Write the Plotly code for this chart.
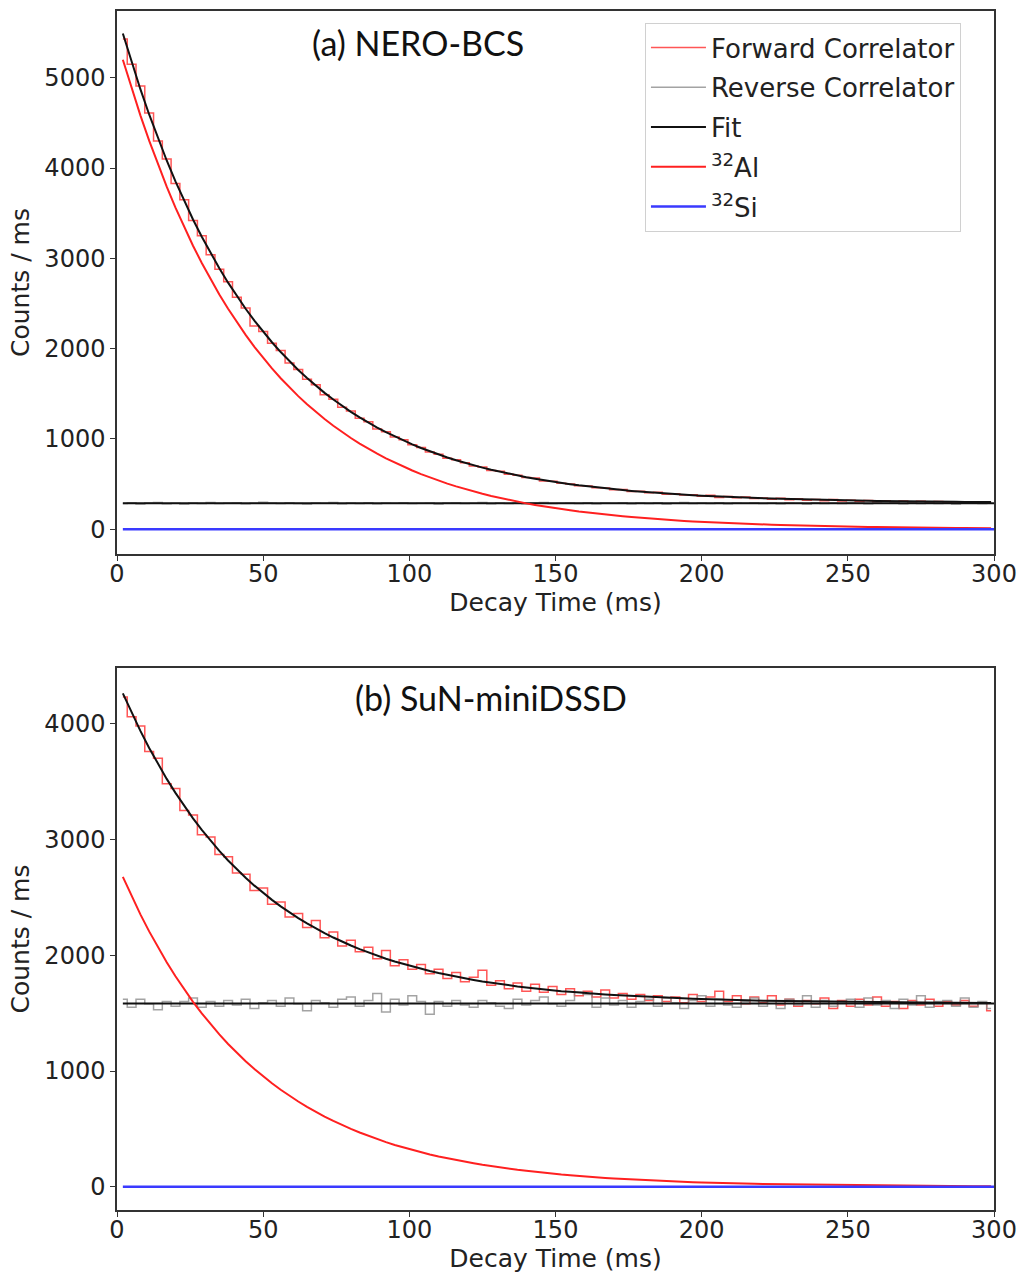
import plotly.graph_objects as go
from plotly.subplots import make_subplots

# ── Bins (ms) — 3 ms wide, starting at 2 ms ────────────────────────────────
decay_time = list(range(2, 300, 3))
line_ends = [2, 300]

# ── (a) NERO-BCS ───────────────────────────────────────────────────────────
forward_a = [
    5430, 5150, 4910, 4610, 4300, 4100, 3830, 3650, 3420, 3250,
    3040, 2880, 2740, 2570, 2450, 2250, 2190, 2060, 1980, 1840,
    1770, 1660, 1600, 1490, 1440, 1350, 1310, 1230, 1190, 1110,
    1080, 1020, 990, 935, 905, 855, 830, 785, 770, 735,
    700, 690, 650, 642, 608, 598, 572, 566, 535, 532,
    508, 502, 482, 478, 458, 456, 436, 440, 418, 420,
    404, 408, 388, 394, 378, 382, 366, 376, 352, 362,
    348, 356, 340, 346, 332, 344, 326, 338, 322, 330,
    316, 328, 312, 322, 308, 318, 304, 316, 300, 312,
    300, 310, 296, 306, 296, 304, 292, 302, 292, 300,
]
reverse_a = [
    285, 292, 280, 290, 295, 283, 288, 279, 291, 286,
    296, 284, 289, 293, 281, 287, 299, 290, 284, 292,
    286, 280, 291, 288, 295, 283, 289, 286, 292, 281,
    290, 287, 294, 284, 288, 291, 279, 289, 293, 285,
    288, 296, 283, 290, 286, 292, 281, 289, 295, 284,
    288, 291, 285, 293, 282, 290, 287, 294, 283, 289,
    286, 292, 280, 288, 295, 284, 290, 286, 293, 281,
    289, 287, 294, 285, 290, 283, 291, 288, 279, 292,
    286, 290, 284, 293, 287, 281, 290, 288, 294, 283,
    289, 286, 291, 285, 288, 280, 292, 287, 284, 290,
]
fit_a = [
    5490, 5172, 4874, 4594, 4331, 4084, 3852, 3635, 3430, 3239,
    3059, 2890, 2731, 2582, 2442, 2310, 2187, 2071, 1962, 1860,
    1764, 1674, 1590, 1510, 1436, 1366, 1300, 1238, 1180, 1126,
    1075, 1027, 982, 940, 900, 863, 828, 795, 764, 735,
    708, 682, 658, 636, 615, 595, 576, 559, 542, 527,
    512, 499, 486, 474, 463, 452, 442, 433, 424, 416,
    408, 401, 394, 388, 382, 376, 371, 366, 361, 357,
    353, 349, 345, 342, 339, 336, 333, 330, 328, 326,
    323, 321, 319, 318, 316, 314, 313, 311, 310, 309,
    308, 307, 306, 305, 304, 303, 302, 301, 300, 300,
]
al32_a = [
    5200, 4882, 4584, 4304, 4041, 3794, 3562, 3345, 3140, 2949,
    2769, 2600, 2441, 2292, 2152, 2020, 1897, 1781, 1672, 1570,
    1474, 1384, 1300, 1220, 1146, 1076, 1010, 948, 890, 836,
    785, 737, 692, 650, 610, 573, 538, 505, 474, 445,
    418, 392, 368, 346, 325, 305, 286, 269, 252, 237,
    222, 209, 196, 184, 173, 162, 152, 143, 134, 126,
    118, 111, 104, 98, 92, 86, 81, 76, 71, 67,
    63, 59, 55, 52, 49, 46, 43, 40, 38, 36,
    33, 31, 29, 28, 26, 24, 23, 21, 20, 19,
    18, 17, 16, 15, 14, 13, 12, 11, 10, 10,
]
bg_fit_a = [288, 288]
si32_a = [0, 0]

# ── (b) SuN-miniDSSD ───────────────────────────────────────────────────────
forward_b = [
    4230, 4060, 3980, 3760, 3700, 3480, 3440, 3250, 3210, 3040,
    3020, 2870, 2850, 2710, 2700, 2560, 2580, 2440, 2460, 2330,
    2360, 2240, 2300, 2150, 2200, 2080, 2130, 2030, 2070, 1970,
    2040, 1910, 1960, 1880, 1920, 1840, 1880, 1800, 1850, 1770,
    1810, 1870, 1740, 1780, 1710, 1760, 1690, 1750, 1680, 1730,
    1660, 1710, 1650, 1690, 1640, 1700, 1630, 1670, 1620, 1660,
    1610, 1650, 1600, 1640, 1590, 1660, 1600, 1640, 1690, 1600,
    1650, 1580, 1640, 1590, 1650, 1570, 1620, 1560, 1610, 1580,
    1630, 1540, 1610, 1560, 1620, 1570, 1640, 1560, 1600, 1540,
    1610, 1570, 1620, 1560, 1600, 1570, 1610, 1560, 1590, 1520,
]
reverse_b = [
    1620, 1550, 1620, 1580, 1530, 1600, 1560, 1600, 1630, 1550,
    1600, 1560, 1610, 1570, 1620, 1540, 1590, 1610, 1560, 1630,
    1580, 1520, 1610, 1590, 1550, 1620, 1640, 1560, 1610, 1670,
    1510, 1620, 1570, 1650, 1600, 1490, 1600, 1560, 1610, 1570,
    1550, 1610, 1590, 1560, 1540, 1620, 1570, 1610, 1640, 1580,
    1560, 1610, 1680, 1660, 1550, 1630, 1570, 1610, 1550, 1600,
    1620, 1560, 1630, 1590, 1540, 1610, 1650, 1560, 1620, 1570,
    1550, 1600, 1630, 1560, 1610, 1540, 1620, 1570, 1650, 1550,
    1610, 1560, 1600, 1620, 1550, 1630, 1570, 1610, 1540, 1620,
    1570, 1650, 1550, 1600, 1610, 1560, 1630, 1550, 1600, 1540,
]
fit_b = [
    4261, 4094, 3937, 3790, 3652, 3523, 3402, 3288, 3182, 3082,
    2988, 2901, 2818, 2741, 2669, 2601, 2538, 2478, 2422, 2370,
    2321, 2275, 2231, 2191, 2153, 2117, 2084, 2053, 2024, 1996,
    1970, 1946, 1924, 1902, 1882, 1864, 1846, 1830, 1815, 1800,
    1787, 1774, 1762, 1751, 1741, 1731, 1722, 1713, 1705, 1697,
    1690, 1684, 1677, 1672, 1666, 1661, 1656, 1652, 1647, 1643,
    1640, 1636, 1633, 1630, 1627, 1624, 1622, 1619, 1617, 1615,
    1613, 1611, 1610, 1608, 1607, 1605, 1604, 1603, 1601, 1600,
    1599, 1598, 1597, 1597, 1596, 1595, 1594, 1594, 1593, 1592,
    1592, 1591, 1591, 1590, 1590, 1590, 1589, 1589, 1589, 1588,
]
al32_b = [
    2677, 2510, 2353, 2206, 2068, 1939, 1818, 1704, 1598, 1498,
    1404, 1317, 1234, 1157, 1085, 1017, 954, 894, 838, 786,
    737, 691, 647, 607, 569, 533, 500, 469, 440, 412,
    386, 362, 340, 318, 298, 280, 262, 246, 231, 216,
    203, 190, 178, 167, 157, 147, 138, 129, 121, 113,
    106, 100, 93, 88, 82, 77, 72, 68, 63, 59,
    56, 52, 49, 46, 43, 40, 38, 35, 33, 31,
    29, 27, 26, 24, 23, 21, 20, 19, 17, 16,
    15, 14, 13, 13, 12, 11, 10, 10, 9, 8,
    8, 7, 7, 6, 6, 6, 5, 5, 5, 4,
]
bg_fit_b = [1584, 1584]
si32_b = [0, 0]

# ── Styles ─────────────────────────────────────────────────────────────────
FWD_COLOR = "rgba(255,30,30,0.75)"
REV_COLOR = "rgba(140,140,140,0.8)"
FIT_COLOR = "#111111"
AL_COLOR = "#ff2020"
SI_COLOR = "#3a3aff"
TICK_FONT = dict(family="DejaVu Sans", size=24, color="#222")
LABEL_FONT = dict(family="DejaVu Sans", size=25, color="#222")
TITLE_FONT = dict(family="Lato", size=34, color="#111")

fig = make_subplots(rows=2, cols=1)

panels = [
    (1, forward_a, reverse_a, fit_a, bg_fit_a, al32_a, si32_a),
    (2, forward_b, reverse_b, fit_b, bg_fit_b, al32_b, si32_b),
]
for row, fwd, rev, fit, bg, al, si in panels:
    first = row == 1
    fig.add_trace(go.Scatter(
        x=decay_time, y=fwd, mode="lines", line_shape="hvh",
        line=dict(color=FWD_COLOR, width=1.5),
        name="Forward Correlator", legendgroup="fwd", showlegend=first,
    ), row=row, col=1)
    fig.add_trace(go.Scatter(
        x=decay_time, y=rev, mode="lines", line_shape="hvh",
        line=dict(color=REV_COLOR, width=1.5),
        name="Reverse Correlator", legendgroup="rev", showlegend=first,
    ), row=row, col=1)
    fig.add_trace(go.Scatter(
        x=decay_time, y=fit, mode="lines",
        line=dict(color=FIT_COLOR, width=2),
        name="Fit", legendgroup="fit", showlegend=first,
    ), row=row, col=1)
    fig.add_trace(go.Scatter(
        x=line_ends, y=bg, mode="lines",
        line=dict(color=FIT_COLOR, width=2),
        name="Fit", legendgroup="fit", showlegend=False,
    ), row=row, col=1)
    fig.add_trace(go.Scatter(
        x=decay_time, y=al, mode="lines",
        line=dict(color=AL_COLOR, width=2),
        name="<sup>32</sup>Al", legendgroup="al", showlegend=first,
    ), row=row, col=1)
    fig.add_trace(go.Scatter(
        x=line_ends, y=si, mode="lines",
        line=dict(color=SI_COLOR, width=2.5),
        name="<sup>32</sup>Si", legendgroup="si", showlegend=first,
    ), row=row, col=1)

axis_common = dict(
    showline=True, linecolor="#333", linewidth=1.5, mirror=True,
    ticks="outside", ticklen=5, tickwidth=1.3, tickcolor="#333",
    showgrid=False, zeroline=False, tickfont=TICK_FONT, automargin=False,
)
for r in (1, 2):
    fig.update_xaxes(
        range=[0, 300], tick0=0, dtick=50, ticklabelstandoff=-8,
        title=dict(text="Decay Time (ms)", font=LABEL_FONT, standoff=2),
        row=r, col=1, **axis_common,
    )
fig.update_yaxes(range=[-275, 5740], tick0=0, dtick=1000,
                 title=dict(text="Counts / ms", font=LABEL_FONT, standoff=8),
                 row=1, col=1, **axis_common)
fig.update_yaxes(range=[-200, 4480], tick0=0, dtick=1000,
                 title=dict(text="Counts / ms", font=LABEL_FONT, standoff=8),
                 row=2, col=1, **axis_common)

fig.add_annotation(text="(a) NERO-BCS", xref="x domain", yref="y domain",
                   x=0.343, y=0.942, xanchor="center", yanchor="middle",
                   showarrow=False, font=TITLE_FONT)
fig.add_annotation(text="(b) SuN-miniDSSD", xref="x2 domain", yref="y2 domain",
                   x=0.427, y=0.945, xanchor="center", yanchor="middle",
                   showarrow=False, font=TITLE_FONT)

fig.update_layout(
    template="none",
    width=1021, height=1279,
    margin=dict(l=117, r=27, t=11, b=69),
    paper_bgcolor="white", plot_bgcolor="white",
    xaxis=dict(domain=[0, 1]), xaxis2=dict(domain=[0, 1]),
    yaxis=dict(domain=[0.5471, 1.0]), yaxis2=dict(domain=[0.0, 0.4520]),
    legend=dict(
        x=0.602, y=0.990, xanchor="left", yanchor="top",
        traceorder="grouped", tracegroupgap=3, itemwidth=55,
        font=dict(family="DejaVu Sans", size=26, color="#222"),
        bgcolor="white", bordercolor="#d0d0d0", borderwidth=1,
    ),
)

# drop the page's default body margin so the figure fills the window exactly
fig.write_html(
    "out.html",
    config={"displayModeBar": False},
    post_script="document.body.style.margin='0';document.body.style.overflow='hidden';",
)
